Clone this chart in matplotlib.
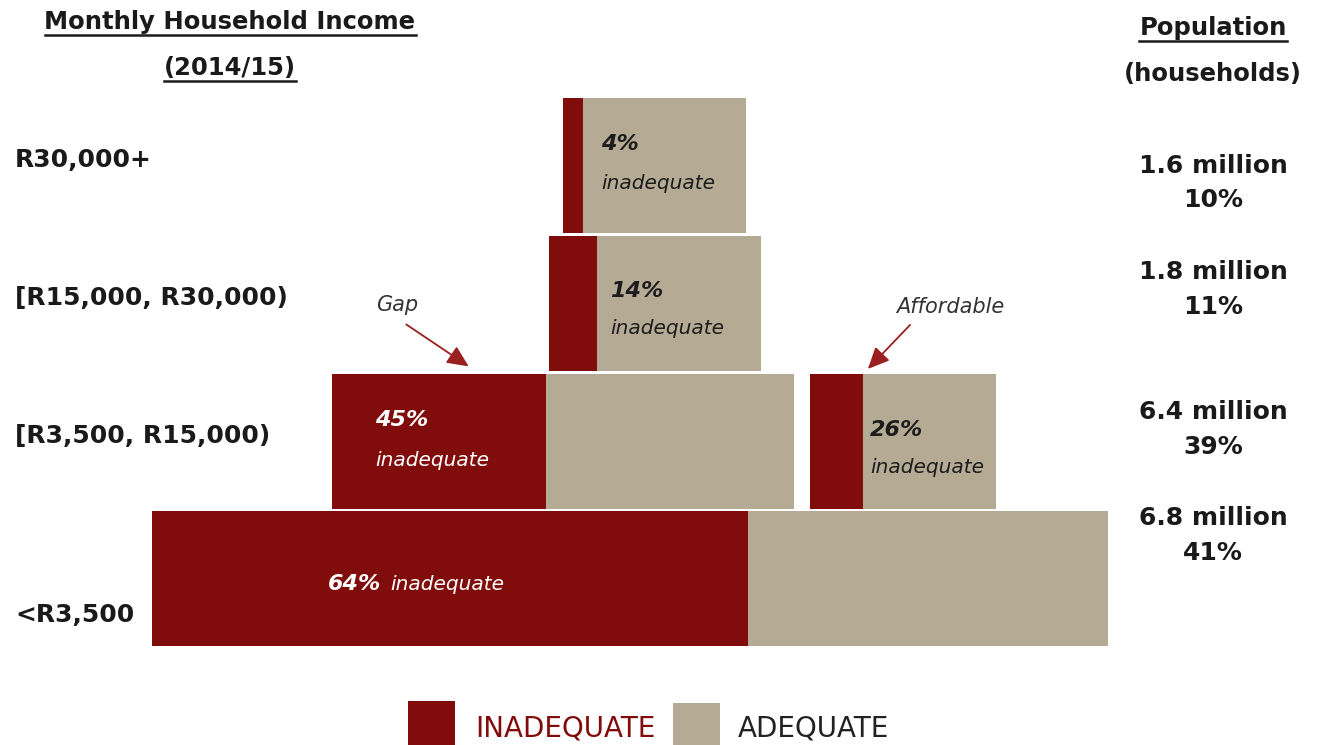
import matplotlib.pyplot as plt
from matplotlib.patches import Rectangle
from matplotlib.lines import Line2D

# income bands, bottom to top
bands = ["<R3,500", "[R3,500, R15,000)", "[R15,000, R30,000)", "R30,000+"]
households = ["6.8 million", "6.4 million", "1.8 million", "1.6 million"]
shares = ["41%", "39%", "11%", "10%"]

# blocks: row, left edge, inadequate width, adequate width
block_row = [3, 2, 1, 1, 0]
block_left = [563, 549, 332, 810, 152]
block_inadequate = [20, 48, 214, 53, 596]
block_adequate = [163, 164, 248, 133, 360]
block_pct = ["4%", "14%", "45%", "26%", "64%"]
block_text = ["#1c1c1c", "#1c1c1c", "white", "#1c1c1c", "white"]

legend_names = ["INADEQUATE", "ADEQUATE"]

RED = "#800d0b"
TAN = "#b5ab94"
DARK = "#1a1a1a"
FONT = "DejaVu Sans"

W, H = 1319, 745
fig = plt.figure(figsize=(W / 100, H / 100), dpi=100)
ax = fig.add_axes([0, 0, 1, 1])
ax.set_xlim(0, W)
ax.set_ylim(-1.205, 4.201)
ax.axis("off")

ax.barh(block_row, block_inadequate, left=block_left, height=0.98, color=RED)
adequate_left = [l + w for l, w in zip(block_left, block_inadequate)]
ax.barh(block_row, block_adequate, left=adequate_left, height=0.98, color=TAN)


def fpos(x, y):
    return x / W, 1 - y / H


def rowy(y):
    # pixel row -> bar units
    return (579 - y) / 137.8


# percentage labels inside the blocks
lab_dx = [38, 61, 43, 60]
lab_dy = [(0.156, -0.127), (0.09, -0.18), (0.15, -0.14), (0.08, -0.19)]
for i in range(4):
    x = block_left[i] + lab_dx[i]
    r = block_row[i]
    ax.text(x, r + lab_dy[i][0], block_pct[i], fontsize=16, fontweight="bold",
            style="italic", color=block_text[i], va="center", family=FONT)
    ax.text(x, r + lab_dy[i][1], "inadequate", fontsize=14.5, style="italic",
            color=block_text[i], va="center", family=FONT)
ax.text(block_left[4] + 176, -0.04, block_pct[4], fontsize=16, fontweight="bold",
        style="italic", color=block_text[4], va="center", family=FONT)
ax.text(block_left[4] + 238, -0.04, "inadequate", fontsize=14.5, style="italic",
        color=block_text[4], va="center", family=FONT)

# row labels on the left
row_dy = [-0.26, 0.04, 0.04, 0.04]
for r, name in enumerate(bands):
    ax.text(15, r + row_dy[r], name, fontsize=18, fontweight="bold",
            color=DARK, va="center", family=FONT)

# population on the right
pop_y = [(518, 553), (412, 447), (272, 307), (166, 200)]
for r in range(4):
    fig.text(*fpos(1213, pop_y[r][0]), households[r], fontsize=18,
             fontweight="bold", color=DARK, ha="center", va="center", family=FONT)
    fig.text(*fpos(1213, pop_y[r][1]), shares[r], fontsize=18,
             fontweight="bold", color=DARK, ha="center", va="center", family=FONT)

# headings with underlines
heads = [
    ("Monthly Household Income", 230, 22, True),
    ("(2014/15)", 230, 68, True),
    ("Population", 1213, 28, True),
    ("(households)", 1213, 74, False),
]
head_txt = []
for s, x, y, ul in heads:
    t = fig.text(*fpos(x, y), s, fontsize=17.5, fontweight="bold", color=DARK,
                 ha="center", va="center", family=FONT)
    head_txt.append((t, ul))

# Gap / Affordable callouts
ax.text(397, rowy(305), "Gap", fontsize=15, style="italic",
        color="#333333", ha="center", va="center", family=FONT)
ax.text(950, rowy(307), "Affordable", fontsize=15, style="italic",
        color="#333333", ha="center", va="center", family=FONT)
arrow = dict(arrowstyle="-|>,head_length=1.3,head_width=0.6", color="#9a1f1f", lw=1.3)
ax.annotate("", xy=(471, rowy(368)), xytext=(404, rowy(323)), arrowprops=arrow)
ax.annotate("", xy=(866, rowy(371)), xytext=(912, rowy(323)), arrowprops=arrow)

# legend keys along the bottom edge
key_x = [408, 673]
key_top = [701, 703]
text_x = [475, 738]
text_col = [RED, "#222222"]
for i, col in enumerate([RED, TAN]):
    x0, y0 = fpos(key_x[i], key_top[i])
    fig.add_artist(Rectangle((x0, y0 - 50 / H), 47 / W, 50 / H, facecolor=col,
                             edgecolor="none", transform=fig.transFigure))
    fig.text(*fpos(text_x[i], 736), legend_names[i], fontsize=20,
             color=text_col[i], va="baseline", family=FONT)

fig.canvas.draw()
inv = fig.transFigure.inverted()
for t, ul in head_txt:
    if not ul:
        continue
    bb = t.get_window_extent().transformed(inv)
    fig.add_artist(Line2D([bb.x0, bb.x1], [bb.y0 - 0.002, bb.y0 - 0.002],
                          color=DARK, lw=1.8, transform=fig.transFigure))

fig.savefig("out.png", dpi=100)
